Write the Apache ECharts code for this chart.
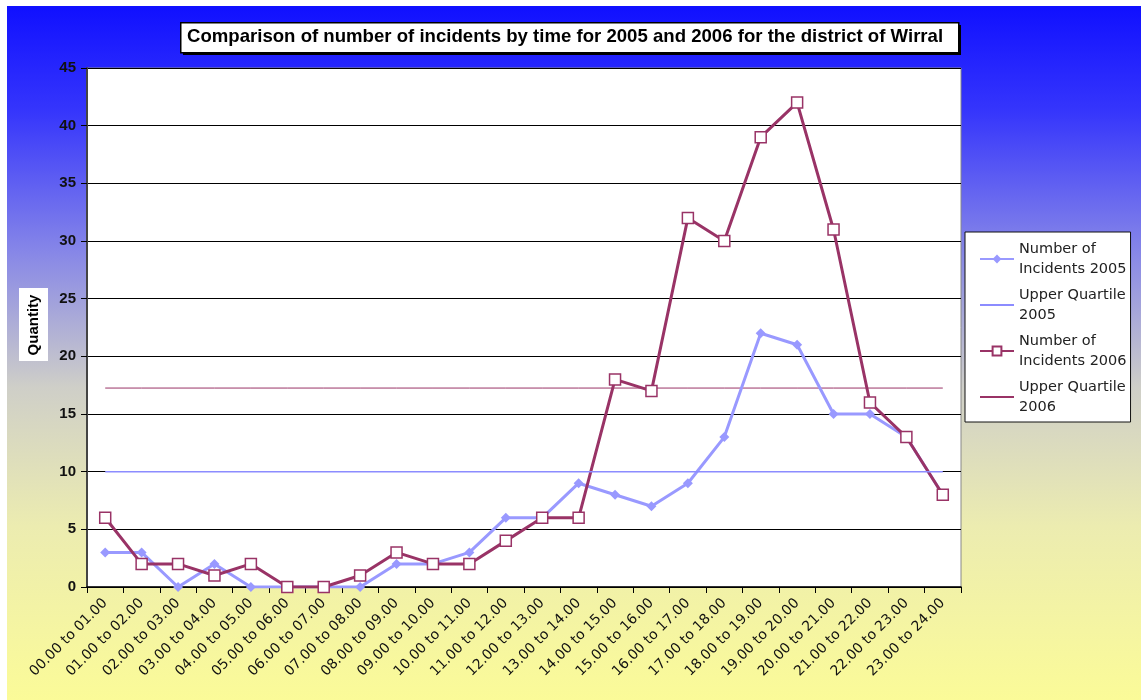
<!DOCTYPE html>
<html>
<head>
<meta charset="utf-8">
<script src="https://cdn.jsdelivr.net/npm/echarts@6/dist/echarts.min.js"></script>
<style>
  html, body { margin: 0; padding: 0; background: #fff; }
  #container { width: 1141px; height: 700px; }
</style>
</head>
<body>
<div id="container"></div>
<script>
var hours = ['00.00 to 01.00', '01.00 to 02.00', '02.00 to 03.00', '03.00 to 04.00',
  '04.00 to 05.00', '05.00 to 06.00', '06.00 to 07.00', '07.00 to 08.00',
  '08.00 to 09.00', '09.00 to 10.00', '10.00 to 11.00', '11.00 to 12.00',
  '12.00 to 13.00', '13.00 to 14.00', '14.00 to 15.00', '15.00 to 16.00',
  '16.00 to 17.00', '17.00 to 18.00', '18.00 to 19.00', '19.00 to 20.00',
  '20.00 to 21.00', '21.00 to 22.00', '22.00 to 23.00', '23.00 to 24.00'];
var incidents2005 = [3, 3, 0, 2, 0, 0, 0, 0, 2, 2, 3, 6, 6, 9, 8, 7, 9, 13, 22, 21, 15, 15, 13, 8];
var incidents2006 = [6, 2, 2, 1, 2, 0, 0, 1, 3, 2, 2, 4, 6, 6, 18, 17, 32, 30, 39, 42, 31, 16, 13, 8];
var quartile2005 = 10;
var quartile2006 = 17.25;

var legendText = {
  'Number of Incidents 2005': 'Number of\nIncidents 2005',
  'Upper Quartile 2005': 'Upper Quartile\n2005',
  'Number of Incidents 2006': 'Number of\nIncidents 2006',
  'Upper Quartile 2006': 'Upper Quartile\n2006'
};

var dom = document.getElementById('container');
var myChart = echarts.init(dom);

var option = {
  animation: false,
  graphic: [
    {
      type: 'rect', left: 7, top: 6, z: -10,
      shape: { width: 1134, height: 694 },
      style: {
        fill: new echarts.graphic.LinearGradient(0, 0, 0, 1, [
          { offset: 0, color: '#1010ff' },
          { offset: 0.15, color: '#3535fc' },
          { offset: 0.35, color: '#8585e8' },
          { offset: 0.55, color: '#cfcfc8' },
          { offset: 0.75, color: '#ececb0' },
          { offset: 1, color: '#fbfb98' }
        ])
      }
    },
    {
      type: 'rect', left: 183, top: 25, z: 5,
      shape: { width: 778, height: 30 },
      style: { fill: '#000' }
    },
    {
      type: 'rect', left: 180, top: 22, z: 6,
      shape: { width: 778, height: 30 },
      style: { fill: '#fff', stroke: '#000', lineWidth: 1.5 }
    },
    {
      type: 'text', left: 187, top: 27, z: 7,
      style: {
        text: 'Comparison of number of incidents by time for 2005 and 2006 for the district of Wirral',
        font: 'bold 18.6px "Liberation Sans", Arial, sans-serif',
        fill: '#000'
      }
    },
    {
      type: 'rect', left: 19, top: 288, z: 6,
      shape: { width: 29, height: 73 },
      style: { fill: '#fff' }
    },
    {
      type: 'text', z: 7,
      x: 34, y: 325, rotation: Math.PI / 2,
      style: {
        text: 'Quantity',
        font: 'bold 15px "Liberation Sans", Arial, sans-serif',
        fill: '#000',
        align: 'center',
        verticalAlign: 'middle'
      }
    }
  ],
  grid: {
    left: 87, top: 68, width: 874, height: 519,
    show: true, backgroundColor: '#fff',
    borderColor: '#888', borderWidth: 1
  },
  legend: {
    orient: 'vertical',
    left: 965, top: 232,
    width: 170,
    padding: [7, 4, 5, 14],
    backgroundColor: '#fff',
    borderColor: '#111', borderWidth: 1,
    itemWidth: 34, itemHeight: 11,
    itemGap: 6,
    textStyle: { fontFamily: 'DejaVu Sans', fontSize: 14.5, color: '#222', lineHeight: 20 },
    formatter: function (name) { return legendText[name]; },
    data: [
      { name: 'Number of Incidents 2005' },
      { name: 'Upper Quartile 2005', itemStyle: { opacity: 0 } },
      { name: 'Number of Incidents 2006' },
      { name: 'Upper Quartile 2006', itemStyle: { opacity: 0 } }
    ]
  },
  xAxis: {
    type: 'category',
    data: hours,
    boundaryGap: true,
    axisLine: { lineStyle: { color: '#000', width: 1.5 } },
    axisTick: { show: true, interval: 0, length: 6, lineStyle: { color: '#000' } },
    axisLabel: {
      interval: 0, rotate: 45, margin: 14,
      fontFamily: 'DejaVu Sans', fontSize: 14, color: '#111'
    }
  },
  yAxis: {
    type: 'value',
    min: 0, max: 45, interval: 5,
    axisLine: { show: true, lineStyle: { color: '#444', width: 2 } },
    axisTick: { show: true, length: 6, lineStyle: { color: '#000' } },
    axisLabel: {
      margin: 11,
      fontFamily: 'Liberation Sans', fontWeight: 'bold', fontSize: 15, color: '#111'
    },
    splitLine: { lineStyle: { color: '#000', width: 1 } }
  },
  series: [
    {
      name: 'Number of Incidents 2005',
      type: 'line',
      data: incidents2005,
      symbol: 'diamond', symbolSize: 10,
      itemStyle: { color: '#9999ff' },
      lineStyle: { color: '#9999ff', width: 3 },
      z: 3
    },
    {
      name: 'Upper Quartile 2005',
      type: 'line',
      data: hours.map(function () { return quartile2005; }),
      showSymbol: false, symbol: 'none',
      itemStyle: { color: '#9999ff' },
      lineStyle: { color: '#8c8cff', width: 1.5 },
      z: 5
    },
    {
      name: 'Number of Incidents 2006',
      type: 'line',
      data: incidents2006,
      symbol: 'rect', symbolSize: 11,
      itemStyle: { color: '#fff', borderColor: '#993366', borderWidth: 1.5 },
      lineStyle: { color: '#993366', width: 3 },
      z: 4
    },
    {
      name: 'Upper Quartile 2006',
      type: 'line',
      data: hours.map(function () { return quartile2006; }),
      showSymbol: false, symbol: 'none',
      itemStyle: { color: '#993366' },
      lineStyle: { color: '#993366', width: 1 },
      z: 2
    }
  ]
};

myChart.setOption(option);
</script>
</body>
</html>
